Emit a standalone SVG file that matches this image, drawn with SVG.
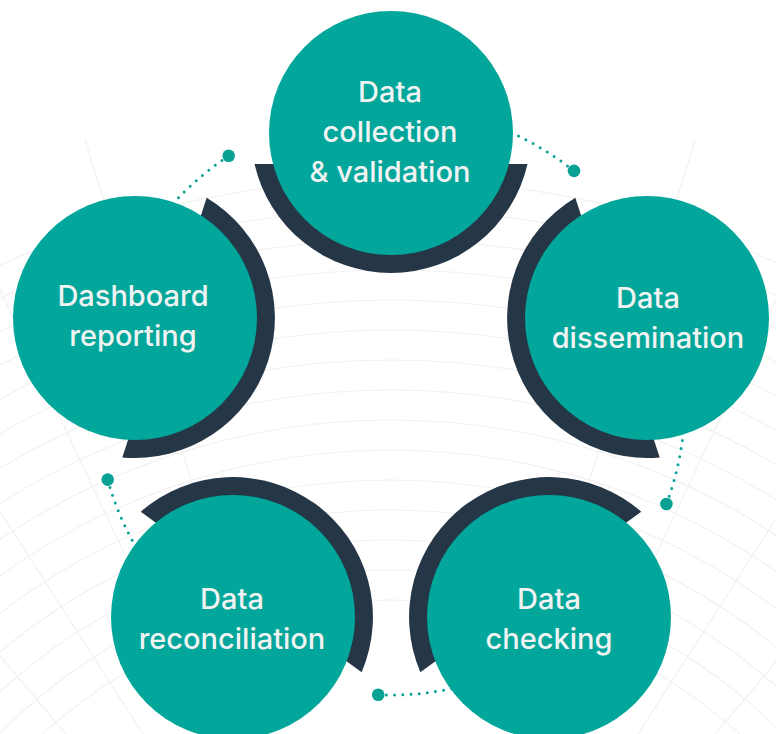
<svg xmlns="http://www.w3.org/2000/svg" width="776" height="734" viewBox="0 0 776 734">
  <style>
    .bg { fill: none; stroke: #F1F1F1; stroke-width: 1.2; }
    .teal { fill: #02A69A; }
    .cap { fill: #253647; }
    .lbl { font-family: Inter, "Noto Sans", "Liberation Sans", sans-serif; font-weight: 500; font-size: 29px; fill: #F1F3F3; text-anchor: middle; }
    .dots { fill: none; stroke: #0AA195; stroke-width: 3; stroke-linecap: round; stroke-dasharray: 0 8.2; }
    .end { fill: #0AA195; }
  </style>
  <defs>
    <clipPath id="bgclip">
      <rect x="0" y="140" width="776" height="594"/>
    </clipPath>
  </defs>
  <rect width="776" height="734" fill="#FFFFFF"/>
  <g id="background" clip-path="url(#bgclip)">
    <circle class="bg" cx="391" cy="1120" r="520"/>
    <circle class="bg" cx="391" cy="1120" r="550"/>
    <circle class="bg" cx="391" cy="1120" r="580"/>
    <circle class="bg" cx="391" cy="1120" r="610"/>
    <circle class="bg" cx="391" cy="1120" r="640"/>
    <circle class="bg" cx="391" cy="1120" r="670"/>
    <circle class="bg" cx="391" cy="1120" r="700"/>
    <circle class="bg" cx="391" cy="1120" r="730"/>
    <circle class="bg" cx="391" cy="1120" r="760"/>
    <circle class="bg" cx="391" cy="1120" r="790"/>
    <circle class="bg" cx="391" cy="1120" r="820"/>
    <circle class="bg" cx="391" cy="1120" r="850"/>
    <circle class="bg" cx="391" cy="1120" r="880"/>
    <circle class="bg" cx="391" cy="1120" r="910"/>
    <circle class="bg" cx="391" cy="1120" r="940"/>
    <path class="bg" d="M391 1120 L -300 300 M391 1120 L -200 200 M391 1120 L -80 120 M391 1120 L 60 60 M391 1120 L 720 60 M391 1120 L 860 120 M391 1120 L 980 200 M391 1120 L 1080 300"/>
  </g>
  <g id="connectors">
    <path class="dots" d="M574.0 170.9 A294 294 0 0 0 491.6 124.7"/>
    <circle class="end" cx="574.0" cy="170.9" r="6.3"/>
    <path class="dots" d="M666.4 504.0 A294 294 0 0 0 684.8 411.3"/>
    <circle class="end" cx="666.4" cy="504.0" r="6.3"/>
    <path class="dots" d="M378.2 694.7 A294 294 0 0 0 472.0 683.6"/>
    <circle class="end" cx="378.2" cy="694.7" r="6.3"/>
    <path class="dots" d="M107.7 479.6 A294 294 0 0 0 147.3 565.4"/>
    <circle class="end" cx="107.7" cy="479.6" r="6.3"/>
    <path class="dots" d="M228.7 155.8 A294 294 0 0 0 159.3 220.0"/>
    <circle class="end" cx="228.7" cy="155.8" r="6.3"/>
  </g>
  <g id="node-collection">
    <path class="cap" transform="translate(391 133) rotate(0)" d="M-136.5 31 A140 140 0 0 0 136.5 31 Z"/>
    <circle class="teal" cx="391" cy="133" r="122"/>
    <text class="lbl" x="390" y="102">Data</text>
    <text class="lbl" x="390" y="142">collection</text>
    <text class="lbl" x="390" y="182">&amp; validation</text>
  </g>
  <g id="node-dissemination">
    <path class="cap" transform="translate(647 318) rotate(72)" d="M-136.5 31 A140 140 0 0 0 136.5 31 Z"/>
    <circle class="teal" cx="647" cy="318" r="122"/>
    <text class="lbl" x="648" y="308">Data</text>
    <text class="lbl" x="648" y="348">dissemination</text>
  </g>
  <g id="node-checking">
    <path class="cap" transform="translate(549 617) rotate(144)" d="M-136.5 31 A140 140 0 0 0 136.5 31 Z"/>
    <circle class="teal" cx="549" cy="617" r="122"/>
    <text class="lbl" x="549" y="609">Data</text>
    <text class="lbl" x="549" y="649">checking</text>
  </g>
  <g id="node-reconciliation">
    <path class="cap" transform="translate(233 617) rotate(216)" d="M-136.5 31 A140 140 0 0 0 136.5 31 Z"/>
    <circle class="teal" cx="233" cy="617" r="122"/>
    <text class="lbl" x="232" y="609">Data</text>
    <text class="lbl" x="232" y="649">reconciliation</text>
  </g>
  <g id="node-dashboard">
    <path class="cap" transform="translate(135 318) rotate(288)" d="M-136.5 31 A140 140 0 0 0 136.5 31 Z"/>
    <circle class="teal" cx="135" cy="318" r="122"/>
    <text class="lbl" x="133" y="306">Dashboard</text>
    <text class="lbl" x="133" y="346">reporting</text>
  </g>
</svg>
